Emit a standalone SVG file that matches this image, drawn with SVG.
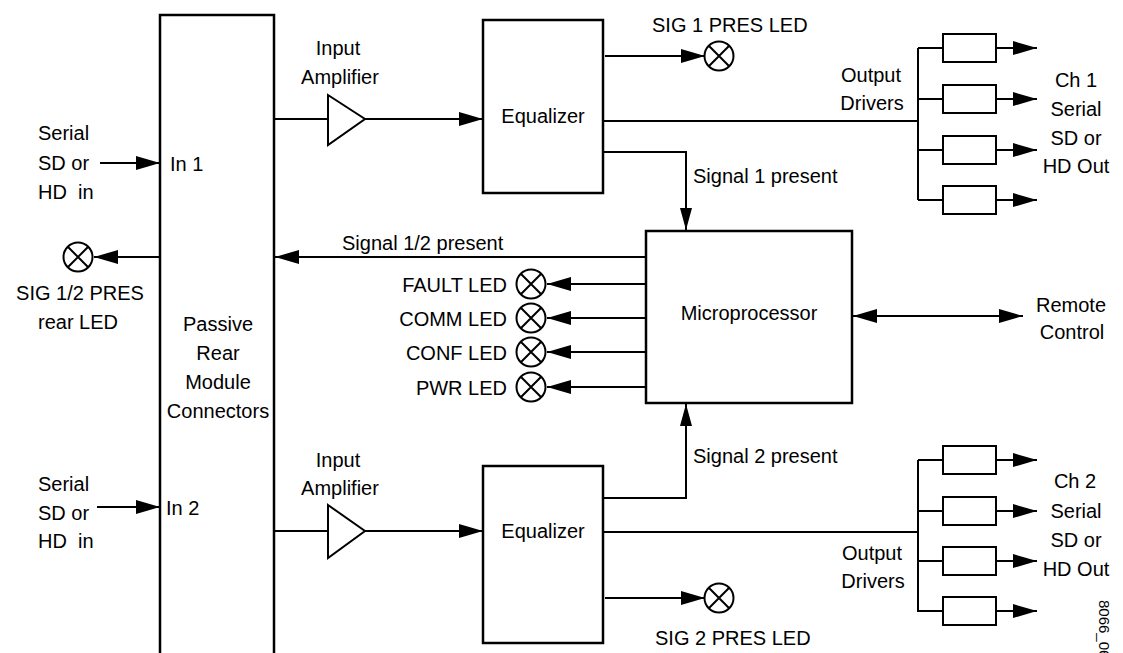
<svg xmlns="http://www.w3.org/2000/svg" width="1123" height="653" viewBox="0 0 1123 653">
<style>
text{font-family:"Liberation Sans",Arial,sans-serif;font-size:20px;fill:#000}
.m{text-anchor:middle}
.e{text-anchor:end}
.pre{white-space:pre}
.box{fill:#fff;stroke:#000;stroke-width:2.5}
.drv{fill:#fff;stroke:#000;stroke-width:2}
.ln{fill:none;stroke:#000;stroke-width:2}
.led{fill:#fff;stroke:#000;stroke-width:2}
.small{font-size:15px}
</style>
<defs>
<marker id="ah" viewBox="0 0 24 14" refX="24" refY="7" markerWidth="24" markerHeight="14" markerUnits="userSpaceOnUse" orient="auto-start-reverse"><path d="M0,0 L24,7 L0,14 z" fill="#000"/></marker>
<marker id="av" viewBox="0 0 22 12" refX="22" refY="6" markerWidth="22" markerHeight="12" markerUnits="userSpaceOnUse" orient="auto"><path d="M0,0 L22,6 L0,12 z" fill="#000"/></marker>
<g id="ledsym"><circle r="14.5" class="led"/><path d="M-10.2,-10.2 L10.2,10.2 M10.2,-10.2 L-10.2,10.2" class="ln"/></g>
</defs>

<g id="connectors">
<line x1="100" y1="163" x2="160" y2="163" class="ln" marker-end="url(#ah)"/>
<line x1="97" y1="507" x2="160" y2="507" class="ln" marker-end="url(#ah)"/>
<line x1="160" y1="257" x2="94" y2="257" class="ln" marker-end="url(#ah)"/>
<line x1="274" y1="119" x2="328" y2="119" class="ln"/>
<line x1="365" y1="119" x2="483" y2="119" class="ln" marker-end="url(#ah)"/>
<line x1="274" y1="531" x2="328" y2="531" class="ln"/>
<line x1="365" y1="531" x2="483" y2="531" class="ln" marker-end="url(#ah)"/>
<line x1="605" y1="56" x2="705" y2="56" class="ln" marker-end="url(#ah)"/>
<line x1="605" y1="598" x2="705" y2="598" class="ln" marker-end="url(#ah)"/>
<line x1="603" y1="121" x2="918" y2="121" class="ln"/>
<line x1="603" y1="532" x2="918" y2="532" class="ln"/>
<polyline points="603,152 686,152 686,230" class="ln" marker-end="url(#av)"/>
<polyline points="603,498 686,498 686,404" class="ln" marker-end="url(#av)"/>
<line x1="646" y1="257" x2="275" y2="257" class="ln" marker-end="url(#ah)"/>
<line x1="646" y1="284" x2="547" y2="284" class="ln" marker-end="url(#ah)"/>
<line x1="646" y1="318" x2="547" y2="318" class="ln" marker-end="url(#ah)"/>
<line x1="646" y1="352" x2="547" y2="352" class="ln" marker-end="url(#ah)"/>
<line x1="646" y1="387" x2="547" y2="387" class="ln" marker-end="url(#ah)"/>
<line x1="853" y1="316" x2="1023" y2="316" class="ln" marker-start="url(#ah)" marker-end="url(#ah)"/>
<path d="M918,48 V200 M918,48 H943 M918,99 H943 M918,150 H943 M918,200 H943" class="ln"/>
<path d="M918,460 V612 M918,460 H943 M918,511 H943 M918,561 H943 M918,611 H943" class="ln"/>
<line x1="996" y1="48" x2="1037" y2="48" class="ln" marker-end="url(#ah)"/>
<line x1="996" y1="99" x2="1037" y2="99" class="ln" marker-end="url(#ah)"/>
<line x1="996" y1="150" x2="1037" y2="150" class="ln" marker-end="url(#ah)"/>
<line x1="996" y1="200" x2="1037" y2="200" class="ln" marker-end="url(#ah)"/>
<line x1="996" y1="460" x2="1037" y2="460" class="ln" marker-end="url(#ah)"/>
<line x1="996" y1="511" x2="1037" y2="511" class="ln" marker-end="url(#ah)"/>
<line x1="996" y1="561" x2="1037" y2="561" class="ln" marker-end="url(#ah)"/>
<line x1="996" y1="611" x2="1037" y2="611" class="ln" marker-end="url(#ah)"/>
</g>

<g id="input1">
<text x="38" y="140">Serial</text>
<text x="38" y="170">SD or</text>
<text x="38" y="199" class="pre">HD  in</text>
</g>
<g id="input2">
<text x="38" y="491">Serial</text>
<text x="38" y="520">SD or</text>
<text x="38" y="548" class="pre">HD  in</text>
</g>

<g id="rear-led">
<use href="#ledsym" x="78" y="257"/>
<text x="80" y="300" class="m">SIG 1/2 PRES</text>
<text x="78" y="329" class="m">rear LED</text>
</g>

<g id="rear-module">
<rect x="160" y="15" width="114" height="660" class="box"/>
<text x="170" y="171">In 1</text>
<text x="166" y="515">In 2</text>
<text x="218" y="331" class="m">Passive</text>
<text x="218" y="360" class="m">Rear</text>
<text x="218" y="389" class="m">Module</text>
<text x="218" y="418" class="m">Connectors</text>
</g>

<g id="amp1">
<polygon points="328,95 365,119 328,145" class="drv"/>
<text x="338" y="55" class="m">Input</text>
<text x="340" y="84" class="m">Amplifier</text>
</g>
<g id="amp2">
<polygon points="328,505 365,531 328,558" class="drv"/>
<text x="338" y="467" class="m">Input</text>
<text x="340" y="495" class="m">Amplifier</text>
</g>

<g id="eq1">
<rect x="483" y="20" width="120" height="173" class="box"/>
<text x="543" y="123" class="m">Equalizer</text>
</g>
<g id="eq2">
<rect x="483" y="466" width="120" height="177" class="box"/>
<text x="543" y="538" class="m">Equalizer</text>
</g>

<g id="sig1-led">
<use href="#ledsym" x="719" y="56"/>
<text x="652" y="32">SIG 1 PRES LED</text>
</g>
<g id="sig2-led">
<use href="#ledsym" x="719" y="598"/>
<text x="655" y="645">SIG 2 PRES LED</text>
</g>

<g id="labels">
<text x="693" y="183">Signal 1 present</text>
<text x="693" y="463">Signal 2 present</text>
<text x="342" y="250">Signal 1/2 present</text>
</g>

<g id="micro">
<rect x="646" y="231" width="206" height="172" class="box"/>
<text x="749" y="320" class="m">Microprocessor</text>
</g>

<g id="fault-led"><use href="#ledsym" x="531" y="284"/><text x="507" y="292" class="e">FAULT LED</text></g>
<g id="comm-led"><use href="#ledsym" x="531" y="318"/><text x="507" y="326" class="e">COMM LED</text></g>
<g id="conf-led"><use href="#ledsym" x="531" y="352"/><text x="507" y="360" class="e">CONF LED</text></g>
<g id="pwr-led"><use href="#ledsym" x="531" y="387"/><text x="507" y="395" class="e">PWR LED</text></g>

<g id="remote">
<text x="1071" y="312" class="m">Remote</text>
<text x="1072" y="339" class="m">Control</text>
</g>

<g id="drivers1">
<rect x="943" y="34" width="53" height="28" class="drv"/>
<rect x="943" y="85" width="53" height="28" class="drv"/>
<rect x="943" y="136" width="53" height="28" class="drv"/>
<rect x="943" y="186" width="53" height="28" class="drv"/>
<text x="871" y="82" class="m">Output</text>
<text x="872" y="110" class="m">Drivers</text>
</g>
<g id="out1">
<text x="1076" y="87" class="m">Ch 1</text>
<text x="1076" y="116" class="m">Serial</text>
<text x="1076" y="145" class="m">SD or</text>
<text x="1076" y="173" class="m">HD Out</text>
</g>

<g id="drivers2">
<rect x="943" y="446" width="53" height="28" class="drv"/>
<rect x="943" y="497" width="53" height="28" class="drv"/>
<rect x="943" y="547" width="53" height="28" class="drv"/>
<rect x="943" y="597" width="53" height="28" class="drv"/>
<text x="872" y="560" class="m">Output</text>
<text x="873" y="588" class="m">Drivers</text>
</g>
<g id="out2">
<text x="1075" y="488" class="m">Ch 2</text>
<text x="1076" y="518" class="m">Serial</text>
<text x="1076" y="547" class="m">SD or</text>
<text x="1076" y="576" class="m">HD Out</text>
</g>

<text class="small" transform="translate(1099,600) rotate(90)">8066_06</text>
</svg>
